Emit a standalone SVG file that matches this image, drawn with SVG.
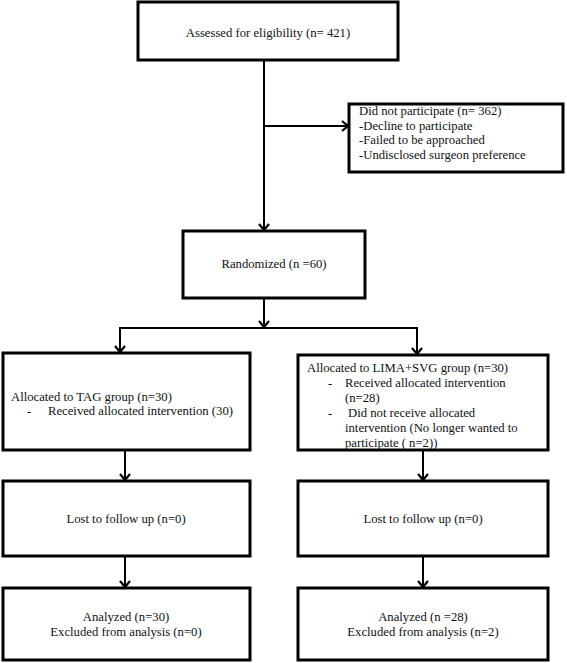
<svg xmlns="http://www.w3.org/2000/svg" width="567" height="663" viewBox="0 0 567 663">
<style>
.box{fill:#fff;stroke:#000;stroke-width:3}
.t{font-family:"Liberation Serif","Times New Roman","DejaVu Serif",serif;font-size:12.7px;fill:#111}
.c{text-anchor:middle}
.con line{stroke:#000;stroke-width:2;fill:none}
</style>
<defs>
<marker id="ah" markerUnits="userSpaceOnUse" viewBox="-9 -7 11 14" refX="0" refY="0" markerWidth="11" markerHeight="14" orient="auto">
<path d="M-6,-5 L0,0 L-6,5" fill="none" stroke="#000" stroke-width="2.2"/>
</marker>
</defs>
<rect width="567" height="663" fill="#fff"/>
<g id="connectors" class="con">
<line x1="264" y1="60" x2="264" y2="230" marker-end="url(#ah)"/>
<line x1="264" y1="126" x2="348" y2="126" marker-end="url(#ah)"/>
<line x1="264" y1="298" x2="264" y2="327" marker-end="url(#ah)"/>
<line x1="119" y1="328" x2="418" y2="328"/>
<line x1="120" y1="328" x2="120" y2="352" marker-end="url(#ah)"/>
<line x1="417" y1="328" x2="417" y2="354" marker-end="url(#ah)"/>
<line x1="125" y1="450" x2="125" y2="480" marker-end="url(#ah)"/>
<line x1="423" y1="450" x2="423" y2="480" marker-end="url(#ah)"/>
<line x1="125" y1="556" x2="125" y2="587" marker-end="url(#ah)"/>
<line x1="423" y1="556" x2="423" y2="587" marker-end="url(#ah)"/>
</g>
<g id="assessed">
<rect class="box" x="138" y="2" width="260" height="58"/>
<text class="t c" x="268" y="37">Assessed for eligibility (n= 421)</text>
</g>
<g id="excluded">
<rect class="box" x="349" y="104" width="214" height="68"/>
<text class="t" x="359" y="115">Did not participate (n= 362)</text>
<text class="t" x="359" y="129.5">-Decline to participate</text>
<text class="t" x="359" y="144">-Failed to be approached</text>
<text class="t" x="359" y="158.5">-Undisclosed surgeon preference</text>
</g>
<g id="randomized">
<rect class="box" x="183" y="231" width="182" height="67"/>
<text class="t c" x="274" y="268">Randomized (n =60)</text>
</g>
<g id="tag">
<rect class="box" x="3" y="353" width="247" height="97"/>
<text class="t" x="11" y="401">Allocated to TAG group (n=30)</text>
<text class="t" x="27" y="415">-</text>
<text class="t" x="48" y="415">Received allocated intervention (30)</text>
</g>
<g id="lima">
<rect class="box" x="298" y="355" width="250" height="95"/>
<text class="t" x="307" y="372">Allocated to LIMA+SVG group (n=30)</text>
<text class="t" x="328" y="387">-</text>
<text class="t" x="345" y="387">Received allocated intervention</text>
<text class="t" x="345" y="402">(n=28)</text>
<text class="t" x="328" y="417">-</text>
<text class="t" x="348" y="417">Did not receive allocated</text>
<text class="t" x="345" y="432">intervention (No longer wanted to</text>
<text class="t" x="345" y="447">participate ( n=2))</text>
</g>
<g id="lost-tag">
<rect class="box" x="3" y="481" width="247" height="75"/>
<text class="t c" x="126" y="523">Lost to follow up (n=0)</text>
</g>
<g id="lost-lima">
<rect class="box" x="298" y="481" width="250" height="75"/>
<text class="t c" x="423" y="523">Lost to follow up (n=0)</text>
</g>
<g id="analyzed-tag">
<rect class="box" x="3" y="588" width="247" height="72"/>
<text class="t c" x="126" y="621">Analyzed (n=30)</text>
<text class="t c" x="126" y="636">Excluded from analysis (n=0)</text>
</g>
<g id="analyzed-lima">
<rect class="box" x="298" y="588" width="250" height="72"/>
<text class="t c" x="423" y="621">Analyzed (n =28)</text>
<text class="t c" x="423" y="636">Excluded from analysis (n=2)</text>
</g>
</svg>
